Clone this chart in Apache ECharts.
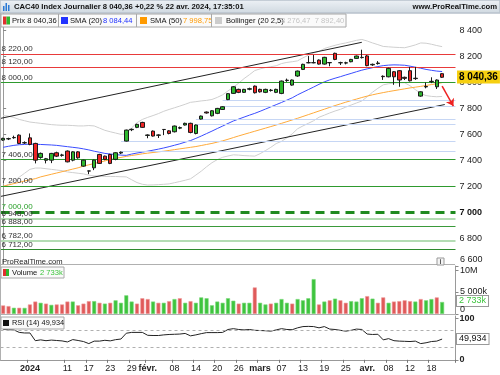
<!DOCTYPE html>
<html><head><meta charset="utf-8">
<script src="https://cdn.jsdelivr.net/npm/echarts@6/dist/echarts.min.js"></script>
<style>html,body{margin:0;padding:0;background:#fff}#c{width:500px;height:375px}</style>
</head><body><div id="c"></div>
<script>
// ---------- DATA ----------
const dates = ['2023-12-21','2023-12-22','2023-12-27','2023-12-28','2023-12-29',
'2024-01-02','2024-01-03','2024-01-04','2024-01-05','2024-01-08','2024-01-09','2024-01-10','2024-01-11','2024-01-12',
'2024-01-15','2024-01-16','2024-01-17','2024-01-18','2024-01-19','2024-01-22','2024-01-23','2024-01-24','2024-01-25','2024-01-26',
'2024-01-29','2024-01-30','2024-01-31','2024-02-01','2024-02-02','2024-02-05','2024-02-06','2024-02-07','2024-02-08','2024-02-09',
'2024-02-12','2024-02-13','2024-02-14','2024-02-15','2024-02-16','2024-02-19','2024-02-20','2024-02-21','2024-02-22','2024-02-23',
'2024-02-26','2024-02-27','2024-02-28','2024-02-29','2024-03-01','2024-03-04','2024-03-05','2024-03-06','2024-03-07','2024-03-08',
'2024-03-11','2024-03-12','2024-03-13','2024-03-14','2024-03-15','2024-03-18','2024-03-19','2024-03-20','2024-03-21','2024-03-22',
'2024-03-25','2024-03-26','2024-03-27','2024-03-28','2024-04-02','2024-04-03','2024-04-04','2024-04-05',
'2024-04-08','2024-04-09','2024-04-10','2024-04-11','2024-04-12','2024-04-15','2024-04-16','2024-04-17','2024-04-18','2024-04-19','2024-04-22'];
const padCats = ['p1','p2'];

const opens = [7556,7565,7574,7594,7534,7573,7530,7422,7400,7401, 7458,7438,7471,7401,7465,7355,7318,7342,7445,7432,
 7445,7407,7456,7548,7636,7654,7692,7592,7625,7593, 7638,7627,7620,7648,7672,7685,7607,7718,7772,7743,
 7762,7792,7868,7916,7947,7924,7948,7972,7947,7924, 7938,7924,7916,8015,7980,8050,8101,8152,8152,8173,
 8142,8152,8225,8152,8150,8160,8186,8192,8205,8136, 8146,8048,8044,8083,8091,8040,8091,8030,7895,7966, 8006,7967,8068];
const closes = [7569,7567,7576,7530,7536,7522,7401,7453,7412,7453, 7432,7441,7388,7465,7419,7401,7317,7401,7376,7407,
 7376,7458,7462,7633,7639,7677,7654,7595,7587,7595, 7637,7607,7664,7652,7685,7615,7672,7741,7765,7782,
 7800,7813,7914,7967,7924,7947,7952,7921,7928,7947, 7941,7947,8011,8018,8019,8088,8140,8153,8153,8142,
 8194,8154,8178,8153,8152,8178,8204,8194,8130,8140, 8150,8045,8109,8044,8019,8032,8013,8033,7928,7969, 8009,8019,8040.36];
const lows = [7550,7556,7566,7525,7526,7516,7376,7412,7376,7378, 7425,7428,7384,7392,7412,7350,7293,7324,7372,7400,
 7370,7400,7448,7545,7625,7648,7650,7570,7583,7572, 7594,7600,7615,7640,7668,7608,7600,7714,7760,7738,
 7756,7788,7864,7912,7918,7919,7940,7915,7922,7918, 7930,7918,7910,8005,7975,8044,8096,8148,8148,8138,
 8138,8125,8172,8135,8140,8156,8182,8185,8125,8128, 8138,8020,8040,7982,7967,8019,8008,8020,7890,7955, 7995,7950,8035];
const highs = [7574,7574,7590,7600,7546,7607,7535,7460,7418,7457, 7466,7450,7476,7470,7470,7404,7320,7404,7450,7436,
 7450,7462,7468,7636,7645,7682,7697,7600,7630,7600, 7640,7632,7668,7660,7690,7690,7676,7745,7776,7786,
 7804,7817,7918,7972,7952,7951,7960,7977,7952,7952, 7950,7952,8015,8030,8023,8092,8145,8204,8212,8178,
 8198,8158,8230,8160,8160,8182,8208,8253,8212,8146, 8165,8055,8114,8088,8096,8045,8120,8120,7932,8000, 8040,8024,8072];

const sma20 = [7500,7508,7515,7520,7522,7525,7523,7522,7520,7518, 7515,7510,7505,7500,7495,7488,7480,7470,7462,7453,
 7448,7444,7440,7438,7448,7456,7463,7470,7478,7486, 7495,7505,7516,7527,7540,7552,7569,7587,7606,7625,
 7645,7664,7684,7703,7718,7733,7748,7762,7778,7795, 7812,7829,7846,7864,7882,7905,7925,7945,7965,7986,
 8005,8020,8033,8045,8058,8070,8083,8095,8105,8114, 8123,8130,8134,8136,8135,8133,8126,8118,8110,8101, 8094,8088,8084.44];
const sma50 = [7200,7210,7220,7230,7240,7250,7258,7272,7282,7292, 7302,7312,7322,7332,7342,7355,7365,7375,7385,7395,
 7405,7415,7422,7430,7437,7443,7450,7455,7460,7465, 7470,7476,7482,7488,7494,7500,7506,7514,7522,7530,
 7540,7550,7562,7575,7588,7600,7612,7624,7636,7648, 7660,7672,7685,7698,7711,7724,7738,7752,7766,7780,
 7794,7808,7822,7835,7848,7860,7872,7884,7895,7905, 7914,7922,7930,7937,7944,7951,7958,7964,7970,7977, 7984,7991,7998.75];
const bbUpper = [7745,7740,7730,7715,7705,7695,7690,7685,7680,7675, 7672,7670,7670,7668,7665,7665,7668,7665,7648,7631,
 7620,7610,7600,7604,7650,7690,7715,7731,7745,7760, 7778,7792,7805,7818,7832,7847,7852,7858,7862,7869,
 7885,7905,7935,7964,7995,8030,8060,8092,8105,8115, 8122,8129,8146,8155,8160,8167,8190,8210,8228,8240,
 8262,8275,8287,8297,8305,8315,8325,8332,8320,8305, 8292,8278,8275,8272,8270,8268,8278,8290,8305,8303, 8295,8285,8276.47];
const bbLower = [7195,7215,7240,7270,7300,7330,7340,7340,7335,7330, 7325,7320,7310,7305,7300,7295,7285,7280,7278,7275,
 7275,7275,7273,7272,7250,7228,7215,7209,7210,7212, 7215,7218,7227,7236,7246,7257,7286,7316,7350,7381,
 7405,7423,7433,7442,7440,7436,7434,7432,7451,7475, 7500,7529,7546,7573,7604,7643,7665,7685,7705,7732,
 7748,7765,7780,7793,7810,7826,7842,7857,7890,7925, 7955,7982,7990,7996,7998,7998,7975,7945,7915,7899, 7893,7890,7892.40];

// volume in thousands, direction u = up (green), d = down (red)
const volumes = [1945,1794,1417,1417,1388,2171,2831,2548,2360,2077, 2171,2171,2831,2831,1983,2360,2926,2926,2548,2360,
 2548,3114,2548,4246,2831,2360,3586,3397,2831,2548, 2548,2926,3397,3586,2548,2926,2548,3774,3586,1983,
 2831,2548,3586,3020,2360,2548,2548,6037,2548,2171, 2360,2548,3397,2548,2360,3397,3114,3586,7923,2171,
 2831,3114,3491,3114,2548,2926,2831,3586,4057,3491, 2548,3774,2548,2831,2926,3114,2926,2831,3397,3114, 3397,3774,2733];
const volDir = ['d','d','u','d','u','d','d','u','d','u', 'd','d','d','u','d','d','d','u','d','u',
 'd','u','u','u','u','d','d','d','u','d', 'u','d','u','d','u','d','u','u','u','u',
 'u','u','u','u','d','u','u','d','u','u', 'd','u','u','u','d','u','u','u','u','d',
 'u','d','u','d','d','u','u','u','d','u', 'd','d','u','d','d','d','d','u','d','u', 'u','d','u'];
const rsi = [73,72.5,72,66,64.6,64.6,46,48,46,47.5, 46.5,45.5,43,48.7,46.5,44,39,45,45,47,
 45.6,48.5,50,64,66,66,66,59,58.5,58.5, 60,61,61.5,62,63.5,57.7,60,63,65.5,65.5,
 65.5,66,73,75,73,72,73,71,70.5,70, 69,72,75,73,72.5,77,80,80.5,80,77,
 80,74,73,71,69,71,74,73,62,61, 61.5,48,51,46,45,44.5,44,45,39,41, 44,45,49.934];

const tickDates = ['2024-01-02','2024-01-11','2024-01-17','2024-01-23','2024-01-29','2024-02-01','2024-02-08','2024-02-14','2024-02-20','2024-02-26',
 '2024-03-01','2024-03-07','2024-03-13','2024-03-19','2024-03-25','2024-04-02','2024-04-08','2024-04-12','2024-04-18'];
const tickLabels = ['2024','11','17','23','29','févr.','08','14','20','26','mars','07','13','19','25','avr.','08','12','18'];
const boldTicks = ['2024','févr.','mars','avr.'];

const levels = [8220,8120,8000,7406,7200,7000,6948,6888,6782,6712];
const levelLabels = ['8 220,00','8 120,00','8 000,00','7 406,00','7 200,00','7 000,00','6 948,00','6 888,00','6 782,00','6 712,00'];
const gapStarts = [22,22,36,36,41,41];
const gapValues = [7468,7545,7676,7714,7817,7862];
const trendUpper = [[-0.5,7723],[67,8310]];
const trendLower = [[-0.5,7121],[82.5,7830]];
const arrowPts = [[82,7972],[84.1,7818]];
const volTicks = [0,5000,10000];
const volTickLabels = ['0','5 000k','10M'];
const priceMinLabel = '6 600';
const lastPrice = 8040.36, lastVol = 2733, lastRsi = 49.934;
const lastPriceText = '8 040,36', lastVolText = '2 733k', lastRsiText = '49,934';

// ---------- CHART ----------
const FONT = 'Liberation Sans, Arial, sans-serif';
const cats = dates.concat(padCats);
const candle = dates.map((d,i)=>[opens[i],closes[i],lows[i],highs[i]]);
const volData = volumes.map((v,i)=>({value:v,itemStyle:{color: volDir[i]==='u' ? '#3ec43e' : '#e05a5a', borderColor: volDir[i]==='u' ? '#7ad87a' : '#ee9a9a', borderWidth:0.6}}));
const tickMap = {}; tickDates.forEach((d,i)=>tickMap[d]=tickLabels[i]);
const fmtNum = v => String(v).replace(/\B(?=(\d{3})+(?!\d))/g,' ');

const levelStyle = [
 {color:'#e83a3a',width:1},{color:'#e83a3a',width:1},{color:'#2e9a2e',width:1},
 {color:'#2e9a2e',width:1},{color:'#2e9a2e',width:1},{color:'#1f8a1f',width:3,type:[9,6]},
 {color:'#b4dcb4',width:2},{color:'#3a9a3a',width:1},{color:'#b4dcb4',width:2},{color:'#2e8a2e',width:1}];

const levelMark = levels.map((v,i)=>({yAxis:v, lineStyle:Object.assign({type:'solid'},levelStyle[i]),
  label:{show:true,position:'insideStartTop',formatter:levelLabels[i],distance:[1,1],fontSize:8,fontFamily:FONT,
  color: v===7000 ? '#2aa02a' : '#333'}}));
const gapMark = gapValues.map((v,i)=>[{coord:[gapStarts[i],v],lineStyle:{color:'#c6d6f4',width:1,type:'solid'},label:{show:false}},{coord:[84.5,v]}]);

const VOL_TOP = 266, VOL_H = 48, VOL_MAX = 10910;
const chart = echarts.init(document.getElementById('c'), null, {renderer:'canvas'});
const axisLineStyle = {show:true,lineStyle:{color:'#9a9a9a',width:1}};
const T = (x,y,text,font,fill,extra) => ({type:'text',x:x,y:y,z:11,style:Object.assign({text:text,font:font+' '+FONT,fill:fill,verticalAlign:'middle'},extra||{})});
const baseGraphic = [
    {type:'rect',shape:{x:0,y:0,width:500,height:13},style:{fill:new echarts.graphic.LinearGradient(0,0,0,1,[{offset:0,color:'#eef2f6'},{offset:1,color:'#cfd8e0'}]),stroke:'#b8c2cc',lineWidth:1},z:10},
    {type:'rect',shape:{x:3,y:6,width:1.5,height:5},style:{fill:'#2a7ad6'},z:11},
    {type:'rect',shape:{x:5.5,y:3,width:1.5,height:8},style:{fill:'#2a7ad6'},z:11},
    {type:'rect',shape:{x:8,y:5,width:1.5,height:6},style:{fill:'#2a7ad6'},z:11},
    T(14,7,'CAC40 Index Journalier 8 040,36 +0,22 % 22 avr. 2024, 17:35:01','bold 7.7px','#111'),
    T(497,7,'www.ProRealTime.com','bold 7.7px','#111',{align:'right'}),
    {type:'rect',shape:{x:1,y:14,width:345,height:13},style:{fill:'rgba(250,250,250,0.95)',stroke:'#a8a8a8',lineWidth:1},z:10},
    {type:'rect',shape:{x:3,y:16.5,width:3.5,height:8},style:{fill:'#e03030'},z:11},
    {type:'rect',shape:{x:6.5,y:16.5,width:3.5,height:8},style:{fill:'#2eb82e'},z:11},
    T(12,21,'Prix 8 040,36','7.6px','#111'),
    {type:'line',shape:{x1:58.5,y1:14,x2:58.5,y2:27},style:{stroke:'#a8a8a8',lineWidth:1},z:11},
    {type:'rect',shape:{x:61,y:17,width:7,height:7},style:{fill:'#2233ff'},z:11},
    T(70,21,'SMA (20)','7.6px','#111'),
    T(103,21,'8 084,44','7.6px','#2233ff'),
    {type:'line',shape:{x1:136.5,y1:14,x2:136.5,y2:27},style:{stroke:'#a8a8a8',lineWidth:1},z:11},
    {type:'rect',shape:{x:140,y:17,width:7,height:7},style:{fill:'#ff9a00'},z:11},
    T(150,21,'SMA (50)','7.6px','#111'),
    T(183,21,'7 998,75','7.6px','#ff9a00'),
    {type:'line',shape:{x1:211.5,y1:14,x2:211.5,y2:27},style:{stroke:'#a8a8a8',lineWidth:1},z:11},
    {type:'rect',shape:{x:215,y:17,width:7,height:7},style:{fill:'#cccccc'},z:11},
    T(226,21,'Bollinger (20 2,5)','7.6px','#111'),
    T(281,21,'8 276,47  7 892,40','7.6px','#c4c4c4'),
    {type:'line',shape:{x1:0,y1:264.5,x2:455,y2:264.5},style:{stroke:'#b0b0b0',lineWidth:1},z:10},
    {type:'line',shape:{x1:0,y1:314.5,x2:455,y2:314.5},style:{stroke:'#b0b0b0',lineWidth:1},z:10},
    {type:'line',shape:{x1:0.5,y1:13,x2:0.5,y2:360},style:{stroke:'#b0b0b0',lineWidth:1},z:10},
    T(2,261.5,'ProRealTime.com','7.6px','#222'),
    {type:'rect',shape:{x:437,y:258,width:7,height:7},style:{fill:'#f4f4f4',stroke:'#999',lineWidth:1},z:11},
    T(440.5,261.8,'i','bold 7px','#555',{align:'center'}),
    {type:'rect',shape:{x:1,y:267,width:63,height:11},style:{fill:'rgba(250,250,250,0.95)',stroke:'#a8a8a8',lineWidth:1},z:10},
    {type:'rect',shape:{x:3,y:269,width:3,height:7},style:{fill:'#e03030'},z:11},
    {type:'rect',shape:{x:6,y:269,width:3,height:7},style:{fill:'#2eb82e'},z:11},
    T(12,272.5,'Volume','7.6px','#111'),
    T(40,272.5,'2 733k','7.6px','#3ec43e'),
    {type:'rect',shape:{x:1,y:317,width:63,height:12},style:{fill:'rgba(250,250,250,0.95)',stroke:'#a8a8a8',lineWidth:1},z:10},
    {type:'rect',shape:{x:3,y:320,width:6,height:6},style:{fill:'#111'},z:11},
    T(12,323,'RSI (14) 49,934','7.4px','#111')
];
const option = {
  animation:false,
  textStyle:{fontFamily:FONT},
  grid:[
    {left:0.5,width:455,top:13,height:251},
    {left:0.5,width:455,top:VOL_TOP,height:VOL_H},
    {left:0.5,width:455,top:316,height:43.8}
  ],
  xAxis:[
    {type:'category',gridIndex:0,data:cats,boundaryGap:true,axisLine:{show:false},axisTick:{show:false},axisLabel:{show:false}},
    {type:'value',gridIndex:0,min:-0.5,max:84.5,show:false},
    {type:'category',gridIndex:1,data:cats,axisLine:{show:false},axisTick:{show:false},axisLabel:{show:false}},
    {type:'category',gridIndex:2,data:cats,axisLine:{show:true,lineStyle:{color:'#999'}},
      axisTick:{show:true,length:3,interval:(i,v)=>v in tickMap,lineStyle:{color:'#777'}},
      axisLabel:{interval:(i,v)=>v in tickMap,margin:4,fontSize:9,color:'#222',
        formatter:v=>{const t=tickMap[v]||''; return boldTicks.includes(t)?'{b|'+t+'}':t;},
        rich:{b:{fontWeight:'bold',fontSize:9,color:'#222'}}}}
  ],
  yAxis:[
    {type:'value',gridIndex:0,position:'right',min:6600,max:8536,interval:200,splitLine:{show:false},
      axisLine:axisLineStyle,axisTick:{show:true,length:3,lineStyle:{color:'#888'}},
      axisLabel:{fontSize:9,color:'#222',margin:4,showMaxLabel:false,showMinLabel:false,
        formatter:v=> v===7000 ? '{b|7 000}' : fmtNum(v), rich:{b:{fontWeight:'bold',fontSize:9,color:'#111'}}}},
    {type:'value',gridIndex:1,position:'right',min:0,max:VOL_MAX,interval:5000,splitLine:{show:false},
      axisLine:axisLineStyle,axisTick:{show:true,length:3,lineStyle:{color:'#888'}},axisLabel:{show:false}},
    {type:'value',gridIndex:2,position:'right',min:0,max:105.5,interval:100,splitLine:{show:false},
      axisLine:axisLineStyle,axisTick:{show:true,length:3,lineStyle:{color:'#888'}},
      axisLabel:{fontSize:9,color:'#222',margin:4,fontWeight:'bold'}}
  ],
  series:[
    {type:'line',xAxisIndex:1,yAxisIndex:0,data:trendUpper,symbol:'none',lineStyle:{color:'#222',width:1},z:3,
      markLine:{silent:true,symbol:'none',animation:false,data:levelMark.concat(gapMark)}},
    {type:'line',xAxisIndex:1,yAxisIndex:0,data:trendLower,symbol:'none',lineStyle:{color:'#222',width:1},z:3,
      markLine:{silent:true,symbol:['none','arrow'],symbolSize:7,animation:false,
        data:[[{coord:arrowPts[0],lineStyle:{color:'#ee2222',width:1.5,type:'solid'},label:{show:false}},{coord:arrowPts[1]}]]}},
    {type:'line',xAxisIndex:0,yAxisIndex:0,data:bbUpper,symbol:'none',lineStyle:{color:'#cfcfcf',width:1},z:2},
    {type:'line',xAxisIndex:0,yAxisIndex:0,data:bbLower,symbol:'none',lineStyle:{color:'#cfcfcf',width:1},z:2},
    {type:'line',xAxisIndex:0,yAxisIndex:0,data:sma50,symbol:'none',lineStyle:{color:'#ffaa3a',width:1},z:3},
    {type:'line',xAxisIndex:0,yAxisIndex:0,data:sma20,symbol:'none',lineStyle:{color:'#3a4cff',width:1},z:3},
    {type:'candlestick',xAxisIndex:0,yAxisIndex:0,data:candle,barWidth:4,z:5,
      itemStyle:{color:'#2eb82e',color0:'#ee2424',borderColor:'#1a1a1a',borderColor0:'#1a1a1a',borderWidth:1}},
    {type:'bar',xAxisIndex:2,yAxisIndex:1,data:volData,barWidth:4},
    {type:'line',xAxisIndex:3,yAxisIndex:2,data:rsi,symbol:'none',lineStyle:{color:'#222',width:1},
      markLine:{silent:true,symbol:'none',animation:false,data:[
        {yAxis:70,lineStyle:{color:'#b0b0b0',type:[3,3],width:1},label:{show:false}},
        {yAxis:30,lineStyle:{color:'#b0b0b0',type:[3,3],width:1},label:{show:false}}]}}
  ],
  graphic: baseGraphic
};
chart.setOption(option);

// right-hand value boxes and volume scale labels
const extra = [];
function lbl(y, text, opts, z){
  extra.push({type:'text',x:457,y:Math.round(y),z:z||30,style:Object.assign({text:text,font:'9px '+FONT,fill:'#222',verticalAlign:'middle'},opts||{})});
}
const volY = v => VOL_TOP + VOL_H * (1 - v / VOL_MAX);
lbl(chart.convertToPixel({yAxisIndex:0}, 6600) - 4, priceMinLabel, {x:3});
lbl(chart.convertToPixel({yAxisIndex:0}, lastPrice), lastPriceText, {font:'bold 10px '+FONT,fill:'#000',backgroundColor:'#f6cf10',padding:[2,2,1,2]});
lbl(volY(lastVol) - 1, lastVolText, {fill:'#3ec43e',backgroundColor:'#fff',borderColor:'#999',borderWidth:1,padding:[1,2,0,2]});
lbl(chart.convertToPixel({yAxisIndex:2}, lastRsi), lastRsiText, {fill:'#111',backgroundColor:'#fff',borderColor:'#999',borderWidth:1,padding:[1,2,0,2]});
lbl(volY(volTicks[2]) + 1, volTickLabels[2], {x:3}, 40);
lbl(volY(volTicks[1]), volTickLabels[1], {x:3}, 40);
lbl(volY(volTicks[0]) - 4, volTickLabels[0], {x:3}, 40);
chart.setOption({graphic: baseGraphic.concat(extra)});
</script>
</body></html>
